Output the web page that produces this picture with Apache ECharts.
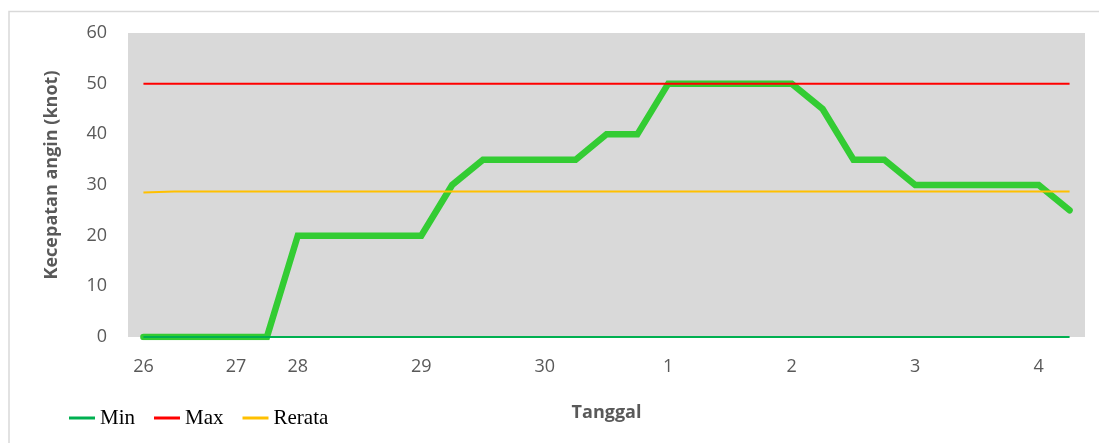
<!DOCTYPE html>
<html>
<head>
<meta charset="utf-8">
<script src="https://cdn.jsdelivr.net/npm/echarts@6/dist/echarts.min.js"></script>
<style>
html,body{margin:0;padding:0;background:#fff;}
#chart{width:1099px;height:443px;}
</style>
</head>
<body>
<div id="chart"></div>
<script>
// 6-hourly steps; tick labels by index (dates)
var dateLabels = ['26','','','27','','28','','','','29','','','','30','','','','1','','','','2','','','','3','','','','4',''];
var categories = dateLabels.map(function (d, i) { return 'p' + i; });
var windSpeed = [0,0,0,0,0,20,20,20,20,20,30,35,35,35,35,40,40,50,50,50,50,50,45,35,35,30,30,30,30,30,25];
var minValues = [0,0,0,0,0,0,0,0,0,0,0,0,0,0,0,0,0,0,0,0,0,0,0,0,0,0,0,0,0,0,0];
var maxValues = [50,50,50,50,50,50,50,50,50,50,50,50,50,50,50,50,50,50,50,50,50,50,50,50,50,50,50,50,50,50,50];
var rerataValues = [28.5,28.7,28.7,28.7,28.7,28.7,28.7,28.7,28.7,28.7,28.7,28.7,28.7,28.7,28.7,28.7,28.7,28.7,28.7,28.7,28.7,28.7,28.7,28.7,28.7,28.7,28.7,28.7,28.7,28.7,28.7];
var yTicks = {min: 0, max: 60, interval: 10};

var chart = echarts.init(document.getElementById('chart'));
chart.setOption({
  animation: false,
  backgroundColor: '#ffffff',
  graphic: [{
    type: 'rect', z: -10, silent: true,
    shape: {x: 9, y: 11.5, width: 1100, height: 440},
    style: {fill: 'none', stroke: '#d9d9d9', lineWidth: 1.5}
  }],
  grid: {left: 128, right: 14, top: 33, bottom: 106, show: true, backgroundColor: '#d9d9d9', borderWidth: 0},
  legend: {
    data: ['Min', 'Max', 'Rerata'],
    left: 64, top: 401,
    icon: 'rect', itemWidth: 26, itemHeight: 3, itemGap: 19,
    textStyle: {fontFamily: 'Liberation Serif', fontSize: 21, color: '#000', lineHeight: 24}
  },
  xAxis: {
    type: 'category',
    data: categories,
    boundaryGap: true,
    name: 'Tanggal',
    nameLocation: 'middle',
    nameGap: 67,
    nameTextStyle: {fontFamily: 'Open Sans', fontWeight: 'bold', fontSize: 18, color: '#595959'},
    axisLine: {show: false},
    axisTick: {show: false},
    splitLine: {show: false},
    axisLabel: {
      interval: 0, margin: 21,
      fontFamily: 'Open Sans', fontSize: 18, color: '#595959',
      formatter: function (v, i) { return dateLabels[i]; }
    }
  },
  yAxis: {
    type: 'value',
    min: yTicks.min, max: yTicks.max, interval: yTicks.interval,
    name: 'Kecepatan angin (knot)',
    nameLocation: 'middle',
    nameGap: 67,
    nameTextStyle: {fontFamily: 'Open Sans', fontWeight: 'bold', fontSize: 18, color: '#595959', padding: [0, 0, 0, 20]},
    axisLine: {show: false},
    axisTick: {show: false},
    splitLine: {show: false},
    axisLabel: {margin: 21, fontFamily: 'Open Sans', fontSize: 18, color: '#595959'}
  },
  series: [
    {name: 'Kecepatan', type: 'line', data: windSpeed, showSymbol: false, symbol: 'none',
     lineStyle: {color: '#33cc33', width: 6.5, cap: 'round', join: 'miter'}, itemStyle: {color: '#33cc33'}, z: 2},
    {name: 'Min', type: 'line', data: minValues, symbol: 'none',
     lineStyle: {color: '#00b050', width: 2}, itemStyle: {color: '#00b050'}, z: 3},
    {name: 'Max', type: 'line', data: maxValues, symbol: 'none',
     lineStyle: {color: '#ff0000', width: 2}, itemStyle: {color: '#ff0000'}, z: 3},
    {name: 'Rerata', type: 'line', data: rerataValues, symbol: 'none',
     lineStyle: {color: '#ffc000', width: 2}, itemStyle: {color: '#ffc000'}, z: 3}
  ]
});
</script>
</body>
</html>
